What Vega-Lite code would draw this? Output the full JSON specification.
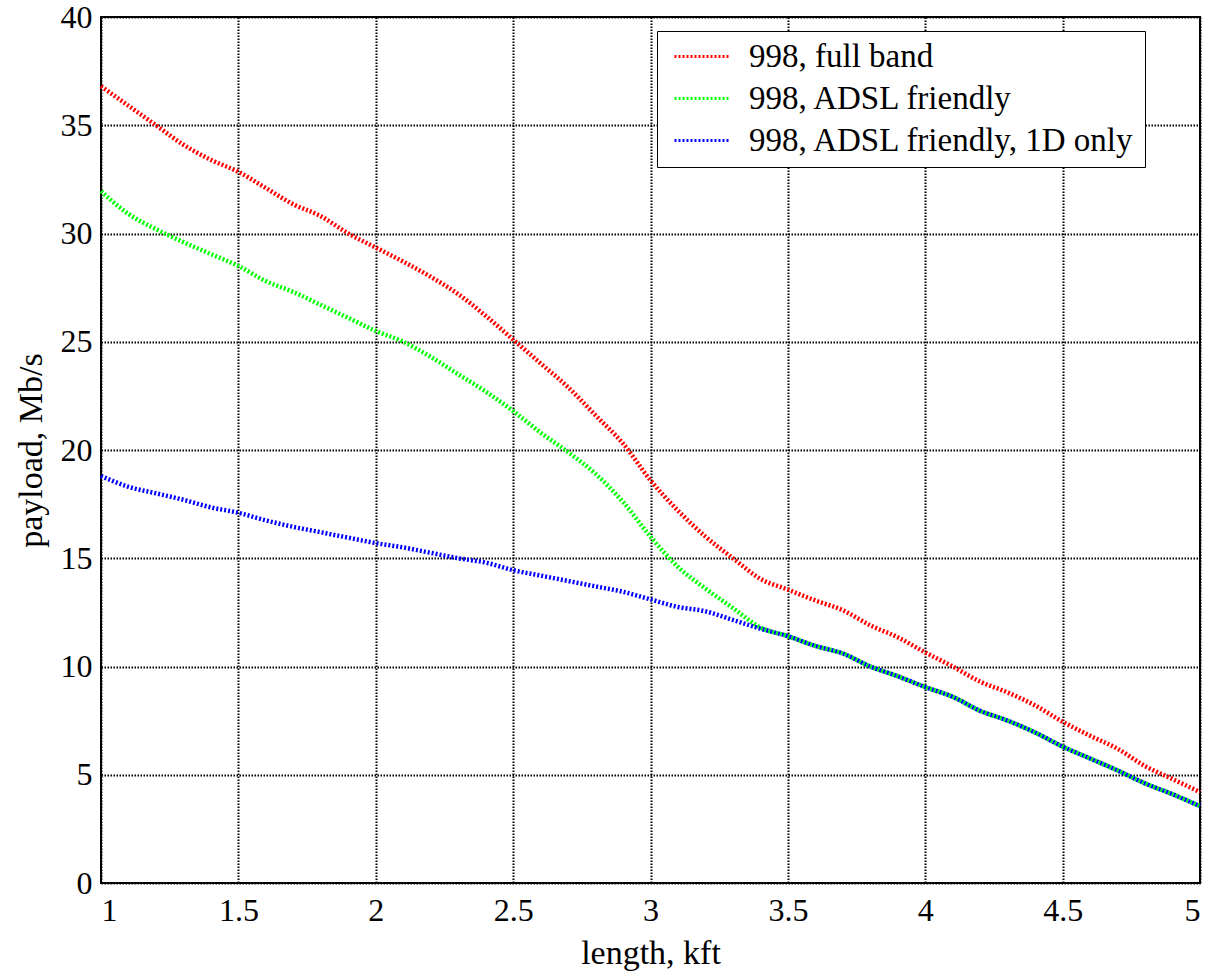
{
  "$schema": "https://vega.github.io/schema/vega-lite/v6.json",
  "width": 1099,
  "height": 866,
  "autosize": {"type": "none"},
  "padding": {"left": 101, "top": 17, "right": 10, "bottom": 92},
  "background": "white",
  "config": {
    "font": "Liberation Serif",
    "view": {"stroke": "black", "strokeWidth": 2},
    "axis": {
      "labelFont": "Liberation Serif",
      "labelFontSize": 32,
      "labelColor": "black",
      "titleFont": "Liberation Serif",
      "titleFontSize": 34,
      "titleFontWeight": "normal",
      "titleColor": "black",
      "domain": false,
      "ticks": false,
      "grid": true,
      "gridColor": "black",
      "gridOpacity": 1,
      "gridWidth": 2,
      "gridDash": [1.5, 1.5]
    }
  },
  "data": {
    "values": [
      {"x": 1.0, "y": 36.8, "s": "998, full band"},
      {"x": 1.1, "y": 35.9, "s": "998, full band"},
      {"x": 1.2, "y": 35.0, "s": "998, full band"},
      {"x": 1.3, "y": 34.1, "s": "998, full band"},
      {"x": 1.4, "y": 33.4, "s": "998, full band"},
      {"x": 1.5, "y": 32.85, "s": "998, full band"},
      {"x": 1.6, "y": 32.1, "s": "998, full band"},
      {"x": 1.7, "y": 31.35, "s": "998, full band"},
      {"x": 1.8, "y": 30.8, "s": "998, full band"},
      {"x": 1.9, "y": 30.0, "s": "998, full band"},
      {"x": 2.0, "y": 29.35, "s": "998, full band"},
      {"x": 2.1, "y": 28.7, "s": "998, full band"},
      {"x": 2.2, "y": 28.0, "s": "998, full band"},
      {"x": 2.3, "y": 27.2, "s": "998, full band"},
      {"x": 2.4, "y": 26.2, "s": "998, full band"},
      {"x": 2.5, "y": 25.1, "s": "998, full band"},
      {"x": 2.6, "y": 24.0, "s": "998, full band"},
      {"x": 2.7, "y": 22.9, "s": "998, full band"},
      {"x": 2.8, "y": 21.6, "s": "998, full band"},
      {"x": 2.9, "y": 20.3, "s": "998, full band"},
      {"x": 3.0, "y": 18.6, "s": "998, full band"},
      {"x": 3.1, "y": 17.2, "s": "998, full band"},
      {"x": 3.2, "y": 16.0, "s": "998, full band"},
      {"x": 3.3, "y": 15.0, "s": "998, full band"},
      {"x": 3.4, "y": 14.05, "s": "998, full band"},
      {"x": 3.5, "y": 13.55, "s": "998, full band"},
      {"x": 3.6, "y": 13.05, "s": "998, full band"},
      {"x": 3.7, "y": 12.6, "s": "998, full band"},
      {"x": 3.8, "y": 11.9, "s": "998, full band"},
      {"x": 3.9, "y": 11.35, "s": "998, full band"},
      {"x": 4.0, "y": 10.65, "s": "998, full band"},
      {"x": 4.1, "y": 10.0, "s": "998, full band"},
      {"x": 4.2, "y": 9.3, "s": "998, full band"},
      {"x": 4.3, "y": 8.8, "s": "998, full band"},
      {"x": 4.4, "y": 8.2, "s": "998, full band"},
      {"x": 4.5, "y": 7.45, "s": "998, full band"},
      {"x": 4.6, "y": 6.8, "s": "998, full band"},
      {"x": 4.7, "y": 6.2, "s": "998, full band"},
      {"x": 4.8, "y": 5.4, "s": "998, full band"},
      {"x": 4.9, "y": 4.8, "s": "998, full band"},
      {"x": 5.0, "y": 4.2, "s": "998, full band"},

      {"x": 1.0, "y": 31.95, "s": "998, ADSL friendly"},
      {"x": 1.1, "y": 30.9, "s": "998, ADSL friendly"},
      {"x": 1.2, "y": 30.2, "s": "998, ADSL friendly"},
      {"x": 1.3, "y": 29.6, "s": "998, ADSL friendly"},
      {"x": 1.4, "y": 29.05, "s": "998, ADSL friendly"},
      {"x": 1.5, "y": 28.5, "s": "998, ADSL friendly"},
      {"x": 1.6, "y": 27.8, "s": "998, ADSL friendly"},
      {"x": 1.7, "y": 27.3, "s": "998, ADSL friendly"},
      {"x": 1.8, "y": 26.7, "s": "998, ADSL friendly"},
      {"x": 1.9, "y": 26.1, "s": "998, ADSL friendly"},
      {"x": 2.0, "y": 25.5, "s": "998, ADSL friendly"},
      {"x": 2.1, "y": 25.0, "s": "998, ADSL friendly"},
      {"x": 2.2, "y": 24.3, "s": "998, ADSL friendly"},
      {"x": 2.3, "y": 23.5, "s": "998, ADSL friendly"},
      {"x": 2.4, "y": 22.7, "s": "998, ADSL friendly"},
      {"x": 2.5, "y": 21.8, "s": "998, ADSL friendly"},
      {"x": 2.6, "y": 20.8, "s": "998, ADSL friendly"},
      {"x": 2.7, "y": 19.9, "s": "998, ADSL friendly"},
      {"x": 2.8, "y": 18.9, "s": "998, ADSL friendly"},
      {"x": 2.9, "y": 17.6, "s": "998, ADSL friendly"},
      {"x": 3.0, "y": 16.0, "s": "998, ADSL friendly"},
      {"x": 3.1, "y": 14.6, "s": "998, ADSL friendly"},
      {"x": 3.2, "y": 13.6, "s": "998, ADSL friendly"},
      {"x": 3.3, "y": 12.7, "s": "998, ADSL friendly"},
      {"x": 3.4, "y": 11.8, "s": "998, ADSL friendly"},
      {"x": 3.5, "y": 11.4, "s": "998, ADSL friendly"},
      {"x": 3.6, "y": 10.95, "s": "998, ADSL friendly"},
      {"x": 3.7, "y": 10.6, "s": "998, ADSL friendly"},
      {"x": 3.8, "y": 10.0, "s": "998, ADSL friendly"},
      {"x": 3.9, "y": 9.55, "s": "998, ADSL friendly"},
      {"x": 4.0, "y": 9.05, "s": "998, ADSL friendly"},
      {"x": 4.1, "y": 8.6, "s": "998, ADSL friendly"},
      {"x": 4.2, "y": 7.95, "s": "998, ADSL friendly"},
      {"x": 4.3, "y": 7.5, "s": "998, ADSL friendly"},
      {"x": 4.4, "y": 6.95, "s": "998, ADSL friendly"},
      {"x": 4.5, "y": 6.3, "s": "998, ADSL friendly"},
      {"x": 4.6, "y": 5.75, "s": "998, ADSL friendly"},
      {"x": 4.7, "y": 5.2, "s": "998, ADSL friendly"},
      {"x": 4.8, "y": 4.6, "s": "998, ADSL friendly"},
      {"x": 4.9, "y": 4.1, "s": "998, ADSL friendly"},
      {"x": 5.0, "y": 3.55, "s": "998, ADSL friendly"},

      {"x": 1.0, "y": 18.8, "s": "998, ADSL friendly, 1D only"},
      {"x": 1.1, "y": 18.3, "s": "998, ADSL friendly, 1D only"},
      {"x": 1.2, "y": 18.0, "s": "998, ADSL friendly, 1D only"},
      {"x": 1.3, "y": 17.7, "s": "998, ADSL friendly, 1D only"},
      {"x": 1.4, "y": 17.35, "s": "998, ADSL friendly, 1D only"},
      {"x": 1.5, "y": 17.1, "s": "998, ADSL friendly, 1D only"},
      {"x": 1.6, "y": 16.75, "s": "998, ADSL friendly, 1D only"},
      {"x": 1.7, "y": 16.45, "s": "998, ADSL friendly, 1D only"},
      {"x": 1.8, "y": 16.2, "s": "998, ADSL friendly, 1D only"},
      {"x": 1.9, "y": 15.95, "s": "998, ADSL friendly, 1D only"},
      {"x": 2.0, "y": 15.7, "s": "998, ADSL friendly, 1D only"},
      {"x": 2.1, "y": 15.5, "s": "998, ADSL friendly, 1D only"},
      {"x": 2.2, "y": 15.25, "s": "998, ADSL friendly, 1D only"},
      {"x": 2.3, "y": 15.0, "s": "998, ADSL friendly, 1D only"},
      {"x": 2.4, "y": 14.8, "s": "998, ADSL friendly, 1D only"},
      {"x": 2.5, "y": 14.45, "s": "998, ADSL friendly, 1D only"},
      {"x": 2.6, "y": 14.2, "s": "998, ADSL friendly, 1D only"},
      {"x": 2.7, "y": 13.95, "s": "998, ADSL friendly, 1D only"},
      {"x": 2.8, "y": 13.7, "s": "998, ADSL friendly, 1D only"},
      {"x": 2.9, "y": 13.45, "s": "998, ADSL friendly, 1D only"},
      {"x": 3.0, "y": 13.1, "s": "998, ADSL friendly, 1D only"},
      {"x": 3.1, "y": 12.75, "s": "998, ADSL friendly, 1D only"},
      {"x": 3.2, "y": 12.55, "s": "998, ADSL friendly, 1D only"},
      {"x": 3.3, "y": 12.15, "s": "998, ADSL friendly, 1D only"},
      {"x": 3.4, "y": 11.75, "s": "998, ADSL friendly, 1D only"},
      {"x": 3.5, "y": 11.4, "s": "998, ADSL friendly, 1D only"},
      {"x": 3.6, "y": 10.95, "s": "998, ADSL friendly, 1D only"},
      {"x": 3.7, "y": 10.6, "s": "998, ADSL friendly, 1D only"},
      {"x": 3.8, "y": 10.0, "s": "998, ADSL friendly, 1D only"},
      {"x": 3.9, "y": 9.55, "s": "998, ADSL friendly, 1D only"},
      {"x": 4.0, "y": 9.05, "s": "998, ADSL friendly, 1D only"},
      {"x": 4.1, "y": 8.6, "s": "998, ADSL friendly, 1D only"},
      {"x": 4.2, "y": 7.95, "s": "998, ADSL friendly, 1D only"},
      {"x": 4.3, "y": 7.5, "s": "998, ADSL friendly, 1D only"},
      {"x": 4.4, "y": 6.95, "s": "998, ADSL friendly, 1D only"},
      {"x": 4.5, "y": 6.3, "s": "998, ADSL friendly, 1D only"},
      {"x": 4.6, "y": 5.75, "s": "998, ADSL friendly, 1D only"},
      {"x": 4.7, "y": 5.2, "s": "998, ADSL friendly, 1D only"},
      {"x": 4.8, "y": 4.6, "s": "998, ADSL friendly, 1D only"},
      {"x": 4.9, "y": 4.1, "s": "998, ADSL friendly, 1D only"},
      {"x": 5.0, "y": 3.55, "s": "998, ADSL friendly, 1D only"}
    ]
  },
  "mark": {"type": "line", "strokeWidth": 4.5, "strokeDash": [2, 2], "interpolate": "monotone"},
  "encoding": {
    "x": {
      "field": "x",
      "type": "quantitative",
      "scale": {"domain": [1, 5], "nice": false, "zero": false},
      "axis": {
        "title": "length, kft",
        "values": [1, 1.5, 2, 2.5, 3, 3.5, 4, 4.5, 5],
        "labelExpr": "'' + datum.value",
        "labelFont": "Liberation Serif",
        "labelFontSize": 32,
        "labelPadding": 12,
        "titlePadding": 10
      }
    },
    "y": {
      "field": "y",
      "type": "quantitative",
      "scale": {"domain": [0, 40], "nice": false},
      "axis": {
        "title": "payload, Mb/s",
        "values": [0, 5, 10, 15, 20, 25, 30, 35, 40],
        "labelFont": "Liberation Serif",
        "labelFontSize": 32,
        "labelPadding": 9,
        "titleX": -70,
        "titleY": 433,
        "titleAngle": -90,
        "titleAlign": "center",
        "titleBaseline": "middle"
      }
    },
    "color": {
      "field": "s",
      "type": "nominal",
      "scale": {
        "domain": ["998, full band", "998, ADSL friendly", "998, ADSL friendly, 1D only"],
        "range": ["#ff0000", "#00ff00", "#0000ff"]
      },
      "legend": {
        "title": null,
        "orient": "none",
        "legendX": 556,
        "legendY": 14,
        "fillColor": "white",
        "strokeColor": "black",
        "padding": 9,
        "symbolType": "M-1,0H7",
        "symbolSize": 196,
        "symbolStrokeWidth": 3,
        "symbolDash": [2, 2],
        "symbolOffset": -1,
        "labelFont": "Liberation Serif",
        "labelFontSize": 33,
        "labelColor": "black",
        "labelOffset": 51,
        "labelLimit": 0,
        "rowPadding": 8
      }
    }
  }
}
